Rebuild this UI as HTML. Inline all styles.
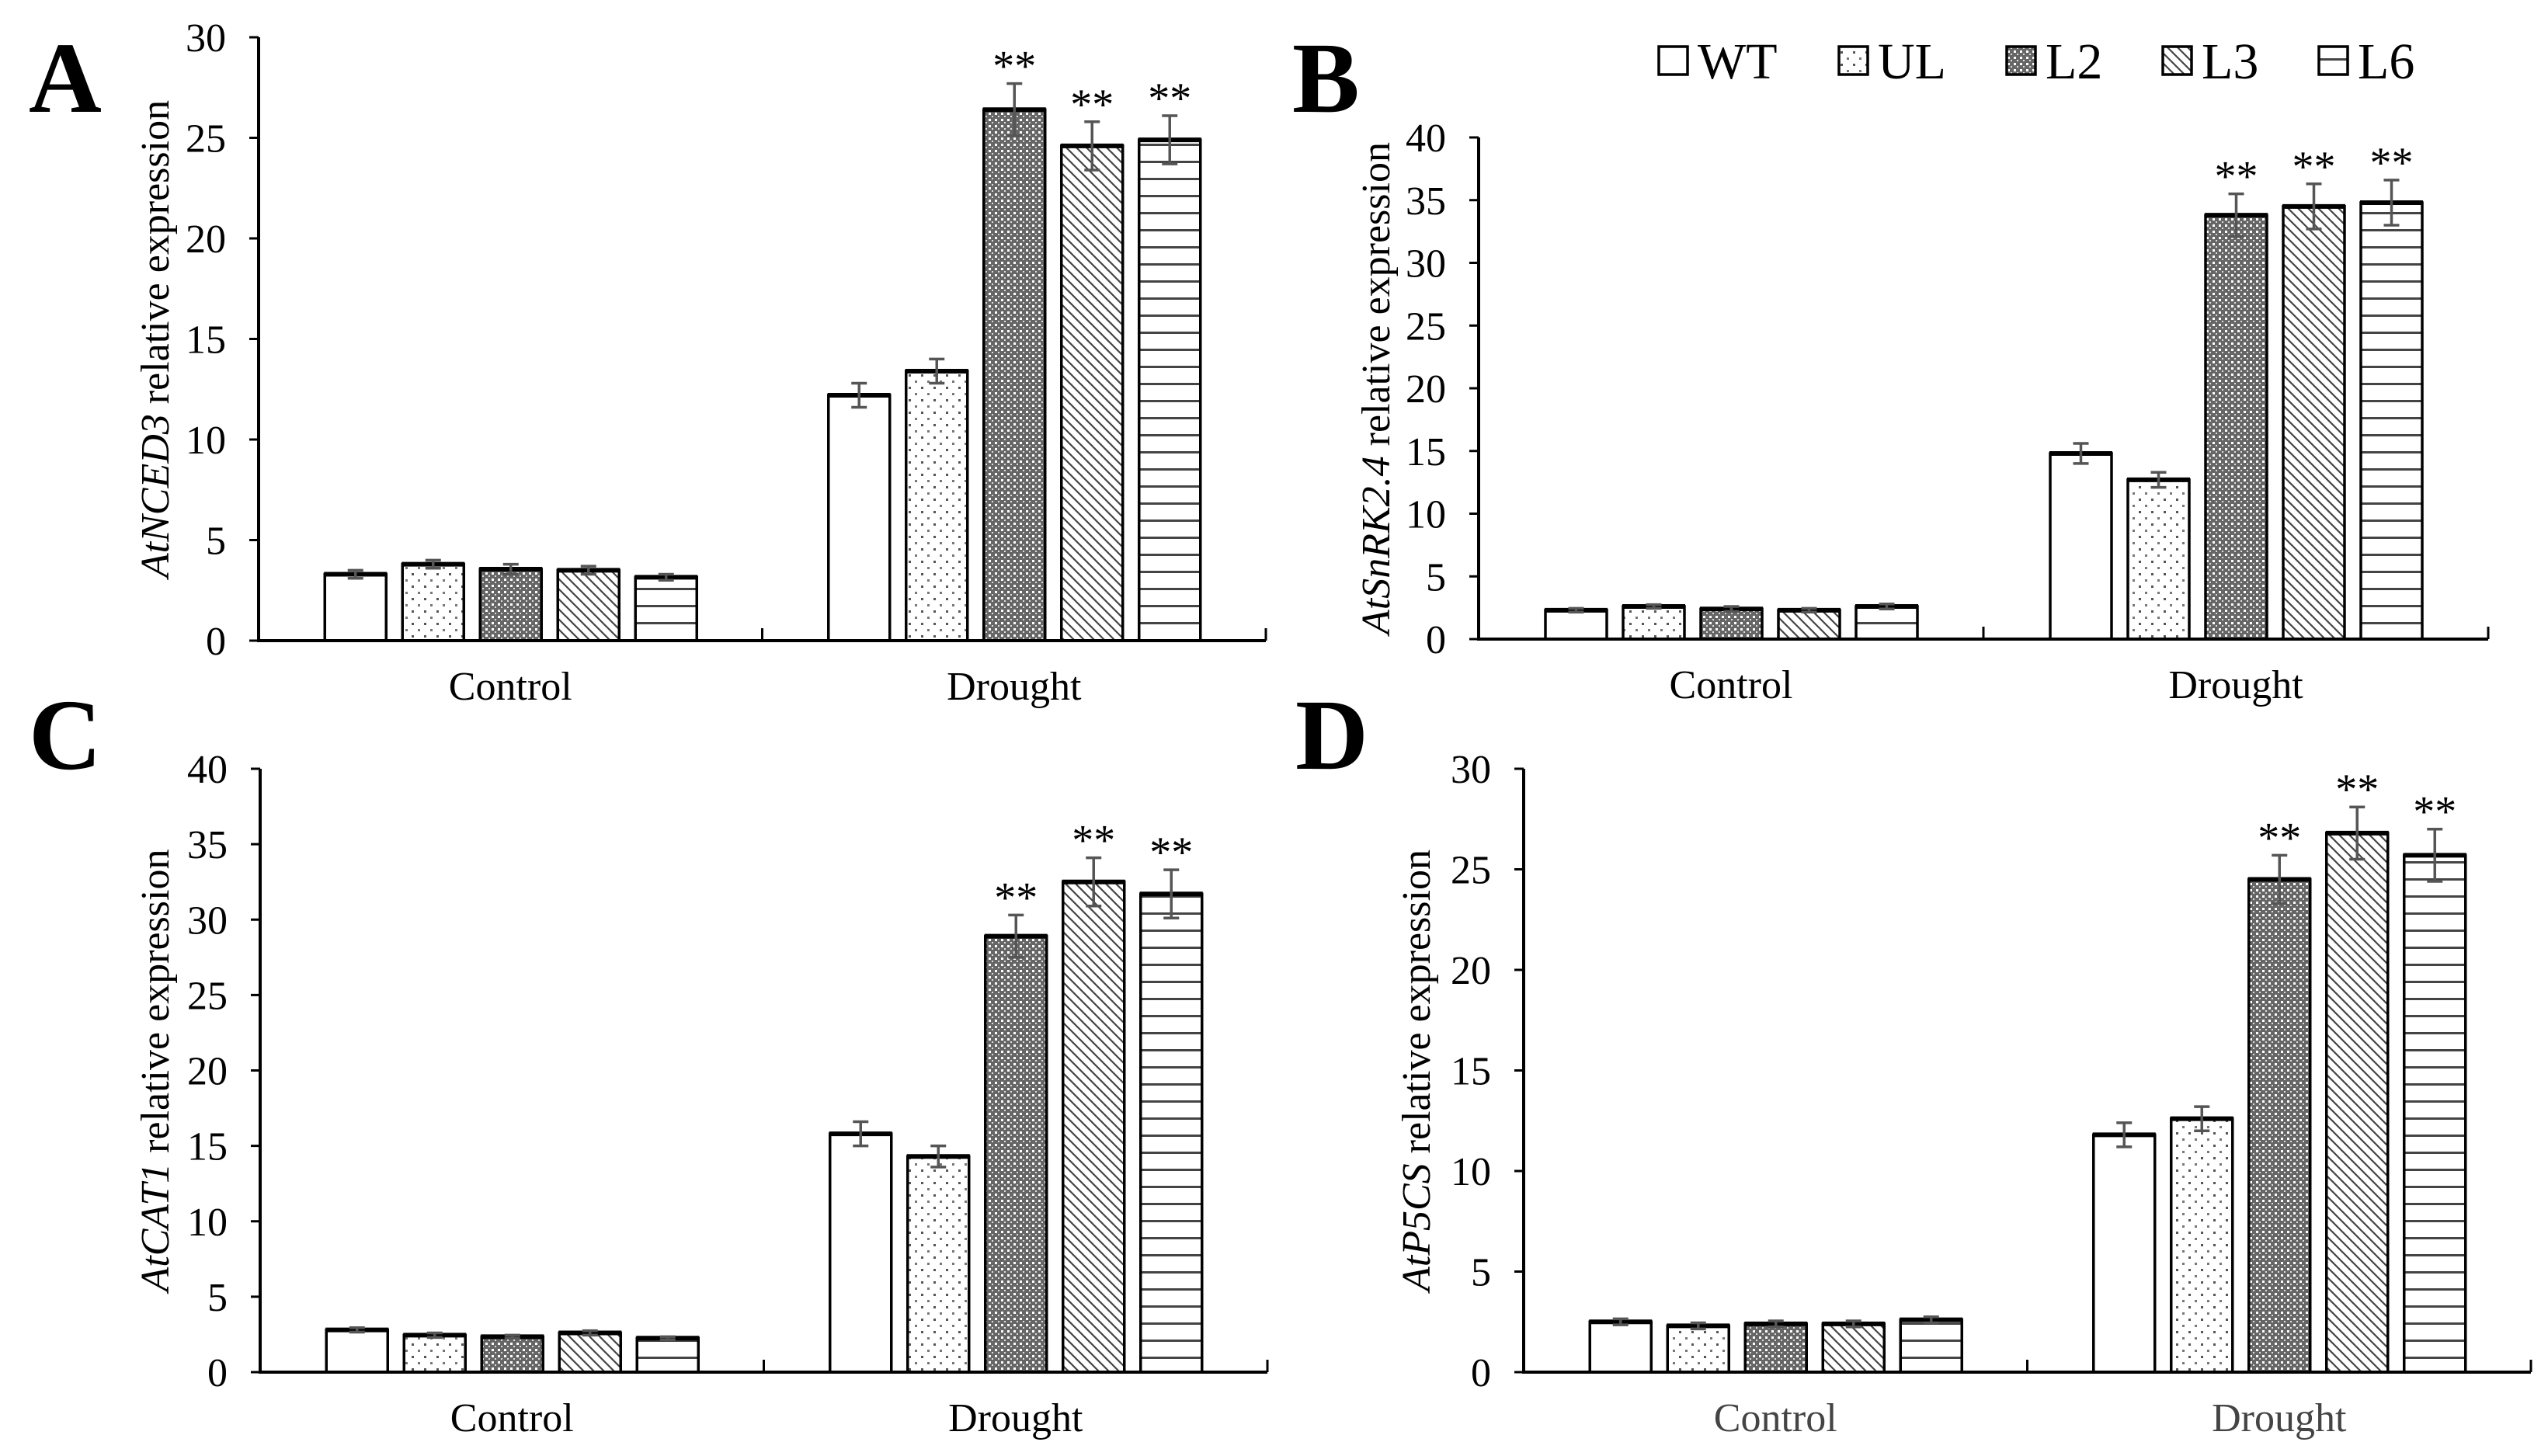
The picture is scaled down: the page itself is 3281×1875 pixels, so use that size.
<!DOCTYPE html>
<html><head><meta charset="utf-8"><style>
html,body{margin:0;padding:0;background:#fff;}
svg{display:block;font-family:"Liberation Serif",serif;}
</style></head><body>
<svg id="fig" width="3281" height="1875" viewBox="0 0 3281 1875" xmlns="http://www.w3.org/2000/svg">
<defs>
<pattern id="p-ul" width="16" height="16" patternUnits="userSpaceOnUse"><rect width="16" height="16" fill="#fff"/><rect x="2" y="2" width="3" height="3" fill="#555"/><rect x="10" y="10" width="3" height="3" fill="#777"/></pattern>
<pattern id="p-l2" width="8" height="8" patternUnits="userSpaceOnUse"><rect width="8" height="8" fill="#666"/><rect x="1" y="1" width="3" height="3" fill="#fff"/><rect x="5" y="5" width="2" height="2" fill="#ddd"/></pattern>
<pattern id="p-l3" width="13" height="13" patternUnits="userSpaceOnUse"><rect width="13" height="13" fill="#fff"/><path d="M-3,-3 L16,16 M-3,10 L3,16 M10,-3 L16,3" stroke="#444" stroke-width="2.2"/></pattern>
<pattern id="p-l6" width="20" height="22" patternUnits="userSpaceOnUse"><rect width="20" height="22" fill="#fff"/><rect y="9" width="20" height="3" fill="#444"/></pattern>
</defs>
<g id="legend"></g>
</svg>
<script>
const series = ["WT","UL","L2","L3","L6"];
const categories = ["Control","Drought"];
const aValues = [[3.3,3.8,3.55,3.5,3.15],[12.2,13.4,26.4,24.6,24.9]];
const aErrors = [[0.2,0.2,0.25,0.2,0.15],[0.6,0.6,1.3,1.2,1.2]];
const bValues = [[2.3,2.6,2.4,2.3,2.6],[14.8,12.7,33.8,34.5,34.8]];
const bErrors = [[0.15,0.15,0.2,0.15,0.2],[0.8,0.6,1.7,1.8,1.8]];
const cValues = [[2.8,2.45,2.35,2.6,2.25],[15.8,14.3,28.9,32.5,31.7]];
const cErrors = [[0.15,0.15,0.1,0.15,0.1],[0.8,0.7,1.4,1.6,1.6]];
const dValues = [[2.5,2.3,2.4,2.4,2.6],[11.8,12.6,24.5,26.8,25.7]];
const dErrors = [[0.15,0.15,0.15,0.15,0.15],[0.6,0.6,1.2,1.3,1.3]];
const aTicks = [0,5,10,15,20,25,30];
const bTicks = [0,5,10,15,20,25,30,35,40];
const cTicks = [0,5,10,15,20,25,30,35,40];
const dTicks = [0,5,10,15,20,25,30];
const stars = [[false,false,false,false,false],[false,false,true,true,true]];

const NS="http://www.w3.org/2000/svg";
const svg=document.getElementById('fig');
const fills=["#fff","url(#p-ul)","url(#p-l2)","url(#p-l3)","url(#p-l6)"];
function mk(tag,attrs,parent,text){const e=document.createElementNS(NS,tag);for(const k in attrs)e.setAttribute(k,attrs[k]);if(text!==undefined)e.textContent=text;parent.appendChild(e);return e;}

const panels=[
 {id:'a',letter:'A',lx:37,ly:144,x0:333,x1:1630,yTop:48,yBot:825,ticks:aTicks,vals:aValues,errs:aErrors,gene:'AtNCED3',tx:199},
 {id:'b',letter:'B',lx:1664,ly:144,x0:1904,x1:3204,yTop:177,yBot:823,ticks:bTicks,vals:bValues,errs:bErrors,gene:'AtSnRK2.4',tx:1771},
 {id:'c',letter:'C',lx:37,ly:990,x0:335,x1:1632,yTop:990,yBot:1767,ticks:cTicks,vals:cValues,errs:cErrors,gene:'AtCAT1',tx:199},
 {id:'d',letter:'D',lx:1668,ly:990,x0:1962,x1:3259,yTop:990,yBot:1767,ticks:dTicks,vals:dValues,errs:dErrors,gene:'AtP5CS',tx:1823,gray:true}
];
panels.forEach(p=>{
 const g=mk('g',{},svg);
 
 
 const ymax=p.ticks[p.ticks.length-1];
 const y=v=>p.yBot-(v/ymax)*(p.yBot-p.yTop);
 const gw=(p.x1-p.x0)/categories.length;
 const lt=mk('text',{x:p.lx,y:p.ly,'font-size':130,'font-weight':'bold'},g,p.letter);
 
 
 // y ticks
 p.ticks.forEach(t=>{
  mk('line',{x1:p.x0-12,x2:p.x0,y1:y(t),y2:y(t),stroke:'#000','stroke-width':3},g);
  const tl=mk('text',{x:p.x0-42,y:y(t)+18,'font-size':52,'text-anchor':'end'},g,String(t));
  
  
 });
 const ttl=mk('text',{x:p.tx,y:(p.yTop+p.yBot)/2,'font-size':52,'text-anchor':'middle',transform:`rotate(-90 ${p.tx} ${(p.yTop+p.yBot)/2})`,dy:18},g);
 
 
 mk('tspan',{'font-style':'italic'},ttl,p.gene);
 mk('tspan',{},ttl,' relative expression');
 // bars
 categories.forEach((c,ci)=>{
  const cx=p.x0+gw*(ci+0.5);
  series.forEach((s,si)=>{
   const v=p.vals[ci][si],e=p.errs[ci][si];
   const bx=cx-239+si*100;
   const r=mk('rect',{x:bx,y:y(v),width:79,height:p.yBot-y(v),fill:fills[si],stroke:'#000','stroke-width':3.5},g);
   
   
   mk('line',{x1:bx-1,x2:bx+80,y1:y(v),y2:y(v),stroke:'#000','stroke-width':6},g);
   const m=bx+39.5;
   const eb=mk('path',{d:`M${m},${y(v+e)}V${y(v-e)}M${m-10},${y(v+e)}H${m+10}M${m-10},${y(v-e)}H${m+10}`,stroke:'#555','stroke-width':3.5,fill:'none'},g);
   
   
   if(stars[ci][si]){
    const st=mk('text',{x:m,y:y(v+e)-4,'font-size':56,'text-anchor':'middle'},g,'**');
    
    
   }
  });
  const cl=mk('text',{x:cx,y:p.yBot+76,'font-size':52,'text-anchor':'middle',fill:p.gray?'#444':'#000'},g,c);
  
  
 });
 // axes
 const ya=mk('line',{x1:p.x0,x2:p.x0,y1:p.yTop,y2:p.yBot+2,stroke:'#000','stroke-width':4},g);
 
 
 const xa=mk('line',{x1:p.x0,x2:p.x1,y1:p.yBot,y2:p.yBot,stroke:'#000','stroke-width':4},g);
 
 
 for(let k=1;k<=categories.length;k++){
  const tx=p.x0+gw*k;
  mk('line',{x1:tx,x2:tx,y1:p.yBot-16,y2:p.yBot,stroke:'#000','stroke-width':3},g);
 }
});
// legend
const lg=document.getElementById('legend');
const legX=[2136,2368,2584,2785,2986];
series.forEach((s,i)=>{
 const it=mk('g',{},lg);
 
 
 mk('rect',{x:legX[i],y:60,width:37,height:36,fill:fills[i],stroke:'#000','stroke-width':3.5},it);
 mk('text',{x:legX[i]+50,y:101,'font-size':66},it,s);
});
</script>
</body></html>
